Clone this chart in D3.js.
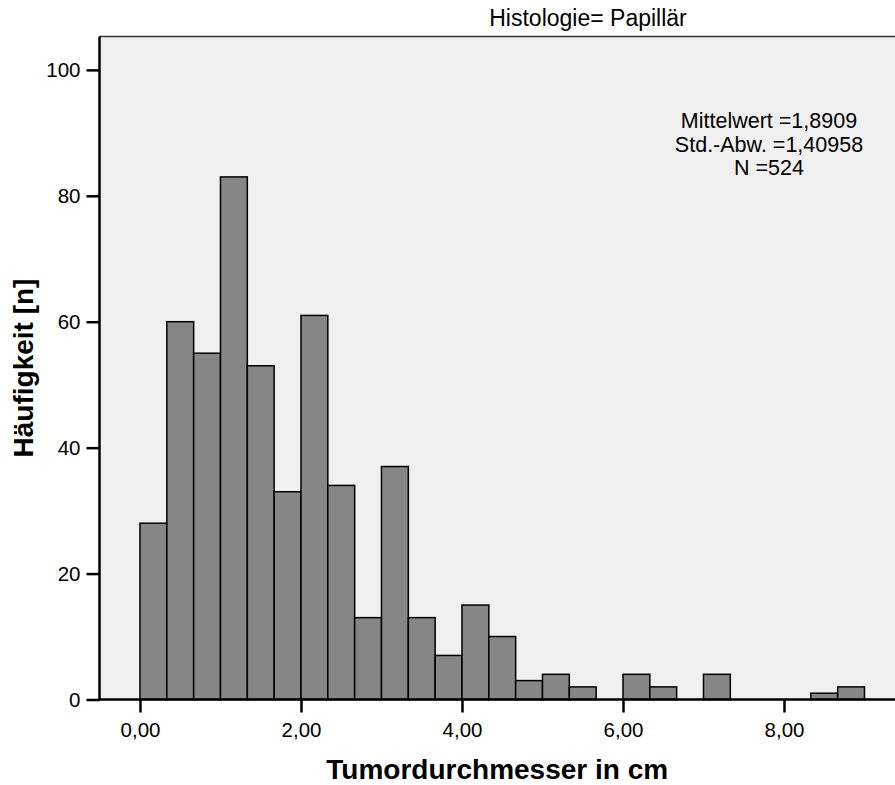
<!DOCTYPE html>
<html>
<head>
<meta charset="utf-8">
<script src="https://cdn.jsdelivr.net/npm/d3@7"></script>
<style>
  html, body { margin: 0; padding: 0; background: #fff; }
  svg { display: block; font-family: "Liberation Sans", Arial, sans-serif; }
</style>
</head>
<body>
<svg id="chart" width="895" height="785"></svg>
<script>
// Histogram of tumour diameter, bins of 1/3 cm starting at 0
const binWidth = 1 / 3;
const binStarts = d3.range(0, 27).map(i => i * binWidth);
const counts = [28, 60, 55, 83, 53, 33, 61, 34, 13, 37, 13, 7, 15, 10, 3, 4, 2, 0, 4, 2, 0, 4, 0, 0, 0, 1, 2];
const xTicks = [0, 2, 4, 6, 8];
const yTicks = [0, 20, 40, 60, 80, 100];
const statLines = ["Mittelwert =1,8909", "Std.-Abw. =1,40958", "N =524"];
const panelTitle = "Histologie= Papillär";
const xTitle = "Tumordurchmesser in cm";
const yTitle = "Häufigkeit [n]";

const bins = binStarts.map((x0, i) => ({ x0, x1: x0 + binWidth, n: counts[i] }));

const svg = d3.select("#chart");
const plot = { left: 99.5, top: 36.5, right: 895, bottom: 699.5 };

const x = d3.scaleLinear().domain([-0.503, 9.379]).range([plot.left, plot.right]);
const y = d3.scaleLinear().domain([0, 105.3]).range([plot.bottom, plot.top]);

// plot background
svg.append("rect")
  .attr("x", plot.left).attr("y", plot.top)
  .attr("width", plot.right - plot.left).attr("height", plot.bottom - plot.top)
  .attr("fill", "#f0f0f0");

// top frame line
svg.append("line")
  .attr("x1", plot.left).attr("x2", plot.right)
  .attr("y1", plot.top).attr("y2", plot.top)
  .attr("stroke", "#333").attr("stroke-width", 1.5);

// bars
svg.append("g").selectAll("rect")
  .data(bins.filter(d => d.n > 0))
  .join("rect")
  .attr("x", d => x(d.x0))
  .attr("y", d => y(d.n))
  .attr("width", d => x(d.x1) - x(d.x0))
  .attr("height", d => y(0) - y(d.n))
  .attr("fill", "#868686")
  .attr("stroke", "#000")
  .attr("stroke-width", 1.5);

// axes
const fmt = d3.format(".2f");
const xAxis = d3.axisBottom(x).tickValues(xTicks).tickSize(13).tickPadding(10)
  .tickFormat(d => fmt(d).replace(".", ","));
const yAxis = d3.axisLeft(y).tickValues(yTicks).tickSize(13).tickPadding(6)
  .tickFormat(d3.format("d"));

const gx = svg.append("g").attr("transform", `translate(0,${plot.bottom})`).call(xAxis);
const gy = svg.append("g").attr("transform", `translate(${plot.left},0)`).call(yAxis);

[gx, gy].forEach(g => {
  g.select(".domain").remove();
  g.selectAll(".tick line").attr("stroke", "#000").attr("stroke-width", 2.5);
  g.selectAll(".tick text")
    .attr("fill", "#000")
    .attr("font-family", "'Liberation Sans', Arial, sans-serif")
    .attr("font-size", 20.5);
});

// axis lines
svg.append("line")
  .attr("x1", plot.left).attr("x2", plot.right)
  .attr("y1", plot.bottom).attr("y2", plot.bottom)
  .attr("stroke", "#000").attr("stroke-width", 2.5);
svg.append("line")
  .attr("x1", plot.left).attr("x2", plot.left)
  .attr("y1", plot.top).attr("y2", plot.bottom + 1)
  .attr("stroke", "#000").attr("stroke-width", 2.5);

// panel title
svg.append("text")
  .attr("x", 588).attr("y", 26)
  .attr("text-anchor", "middle")
  .attr("font-size", 23)
  .attr("fill", "#000")
  .text(panelTitle);

// summary statistics
svg.append("g").selectAll("text")
  .data(statLines)
  .join("text")
  .attr("x", 769)
  .attr("y", (d, i) => 128 + i * 23.5)
  .attr("text-anchor", "middle")
  .attr("font-size", 21.5)
  .attr("fill", "#000")
  .text(d => d);

// axis titles
svg.append("text")
  .attr("x", (plot.left + plot.right) / 2).attr("y", 779)
  .attr("text-anchor", "middle")
  .attr("font-size", 28).attr("font-weight", "bold")
  .attr("fill", "#000")
  .text(xTitle);

svg.append("text")
  .attr("transform", `translate(33,${(plot.top + plot.bottom) / 2}) rotate(-90)`)
  .attr("text-anchor", "middle")
  .attr("font-size", 28).attr("font-weight", "bold")
  .attr("fill", "#000")
  .text(yTitle);
</script>
</body>
</html>
